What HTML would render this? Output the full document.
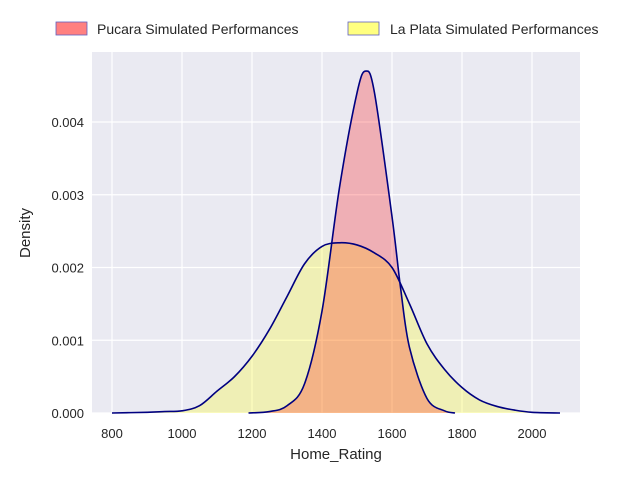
<!DOCTYPE html>
<html><head><meta charset="utf-8"><style>
body{margin:0;background:#fff;font-family:"Liberation Sans",sans-serif}
</style></head><body>
<svg id="c" width="640" height="480" xmlns="http://www.w3.org/2000/svg">
<rect x="92" y="52" width="488" height="361" fill="#eaeaf2"/>
<g id="grid"></g><g id="series"></g><g id="ticks"></g>
<text x="336" y="459" font-size="15" fill="#262626" text-anchor="middle">Home_Rating</text>
<text x="30" y="233" font-size="15" fill="#262626" text-anchor="middle" transform="rotate(-90 30 233)">Density</text>
<g>
<rect x="56" y="22" width="31" height="13" fill="#ff8080" stroke="#6060c0" stroke-width="0.8"/>
<text x="97" y="34" font-size="14" fill="#262626">Pucara Simulated Performances</text>
<rect x="348" y="22" width="31" height="13" fill="#ffff80" stroke="#6060c0" stroke-width="0.8"/>
<text x="390" y="34" font-size="14" fill="#262626">La Plata Simulated Performances</text>
</g>
</svg>
<script>
const pucaraX=[1190,1250,1300,1350,1400,1450,1500,1525,1550,1600,1625,1650,1700,1750,1780];
const pucaraY=[0,0.00002,0.0001,0.0004,0.0014,0.0031,0.0044,0.0047,0.0044,0.0027,0.0017,0.0009,0.0002,0.00003,0];
const laplataX=[800,900,950,1000,1050,1100,1150,1200,1250,1300,1350,1400,1450,1500,1550,1600,1650,1700,1750,1800,1850,1900,1950,2000,2080];
const laplataY=[0,0.00001,0.00002,0.00003,0.0001,0.0003,0.0005,0.00078,0.00115,0.0016,0.00205,0.00229,0.00234,0.00231,0.0022,0.0020,0.0015,0.00095,0.0006,0.00035,0.00018,0.00009,0.00004,0.00001,0];
const xTicks=[800,1000,1200,1400,1600,1800,2000];
const yTicks=[0,0.001,0.002,0.003,0.004];
const yTickLabels=["0.000","0.001","0.002","0.003","0.004"];
const NS="http://www.w3.org/2000/svg";
const sx=v=>112+(v-800)*0.35, sy=v=>413-v*72750;
function mk(t,a,p){const e=document.createElementNS(NS,t);for(const k in a)e.setAttribute(k,a[k]);p.appendChild(e);return e;}
const grid=document.getElementById('grid'),ticks=document.getElementById('ticks'),ser=document.getElementById('series');
xTicks.forEach(v=>{
 const l=mk('line',{x1:sx(v),x2:sx(v),y1:52,y2:413,stroke:'#fff','stroke-width':1.2},grid);
 
 
 const t=mk('text',{x:sx(v),y:438,'font-size':13,fill:'#262626','text-anchor':'middle'},ticks);
 t.textContent=v;
 
 
});
yTicks.forEach((v,i)=>{
 const l=mk('line',{x1:92,x2:580,y1:sy(v),y2:sy(v),stroke:'#fff','stroke-width':1.2},grid);
 
 
 const t=mk('text',{x:84,y:sy(v)+5,'font-size':13,fill:'#262626','text-anchor':'end'},ticks);
 t.textContent=yTickLabels[i];
 
 
});
function curve(xs,ys){
 const p=xs.map((x,i)=>[sx(x),sy(ys[i])]);
 let d='M'+p[0][0]+','+p[0][1];
 for(let i=0;i<p.length-1;i++){
  const p0=p[Math.max(0,i-1)],p1=p[i],p2=p[i+1],p3=p[Math.min(p.length-1,i+2)];
  const c1=[p1[0]+(p2[0]-p0[0])/6,p1[1]+(p2[1]-p0[1])/6],c2=[p2[0]-(p3[0]-p1[0])/6,p2[1]-(p3[1]-p1[1])/6];
  d+=`C${c1[0]},${Math.min(413,c1[1])} ${c2[0]},${Math.min(413,c2[1])} ${p2[0]},${p2[1]}`;
 }
 return d;
}
[[laplataX,laplataY,'rgba(255,255,0,0.25)','laplata'],[pucaraX,pucaraY,'rgba(255,0,0,0.25)','pucara']].forEach(s=>{
 const d=curve(s[0],s[1]);
 const f=mk('path',{d:d+'Z',fill:s[2],stroke:'none'},ser);
 
 
});
[[laplataX,laplataY,'laplata'],[pucaraX,pucaraY,'pucara']].forEach(s=>{
 const l=mk('path',{d:curve(s[0],s[1]),fill:'none',stroke:'#000080','stroke-width':1.6},ser);
 
 
});
</script>
</body></html>
